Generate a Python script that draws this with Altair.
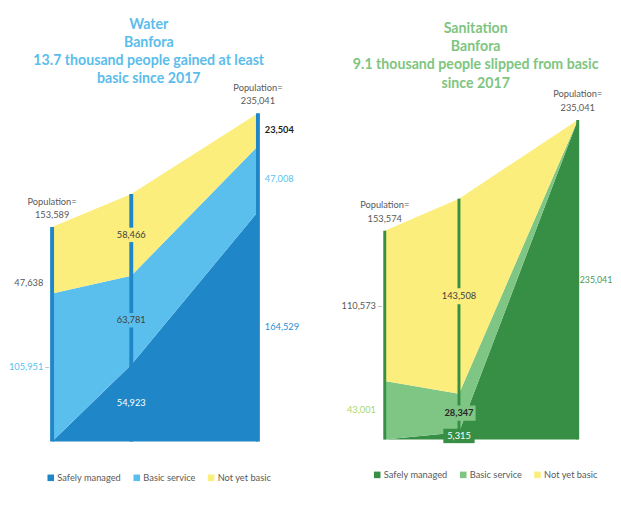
import altair as alt
import pandas as pd

# ---------------- data ----------------
years = [2017, 2022, 2030]
stage_names = [["Base", "2017"], ["Now", "2022"], ["Vision 2030"]]
categories = ["Safely managed", "Basic service", "Not yet basic"]

water_safely = [0, 54923, 164529]
water_basic = [105951, 63781, 47008]
water_not_basic = [47638, 58466, 23504]

san_safely = [0, 5315, 235041]
san_basic = [43001, 28347, 0]
san_not_basic = [110573, 143508, 0]

water_title = ["Water", "Banfora", "13.7 thousand people gained at least", "basic since 2017"]
san_title = ["Sanitation", "Banfora", "9.1 thousand people slipped from basic", "since 2017"]

# ---------------- styles ----------------
FONT = "Lato"
NUM = 9.5
GRAY = "#595959"
YELLOW = "#FBEE7C"
water_colors = ["#1F86C8", "#5BBFEE", YELLOW]
san_colors = ["#368F44", "#7FC685", YELLOW]
BOX = "M-1,-0.46H1V0.46H-1Z"


def build(series):
    rows = []
    lo = [0] * len(years)
    for cat, vals in zip(categories, series):
        for i, (yr, v) in enumerate(zip(years, vals)):
            rows.append(dict(year=yr, cat=cat, lo=lo[i], hi=lo[i] + v,
                             mid=lo[i] + v / 2, label=f"{v:,}", stage=i))
        lo = [a + b for a, b in zip(lo, vals)]
    totals = pd.DataFrame(dict(year=years, zero=[0] * len(years), total=lo,
                               pop=[f"Population=\n{t:,}" for t in lo]))
    return pd.DataFrame(rows), totals


label_expr = " : ".join(
    f"datum.value == {y} ? {n!r}" for y, n in zip(years, stage_names)
) + " : ''"


def panel(series, colors, title_lines, title_color, title_offset, title_dx,
          width, height, xdom, ydom, label_specs, rule_width, legend_xy):
    df, tot = build(series)
    xs = alt.Scale(domain=xdom, nice=False, zero=False)
    ys = alt.Scale(domain=ydom, nice=False)
    X = alt.X("year:Q", scale=xs,
              axis=alt.Axis(values=years, labelExpr=label_expr, title=None, grid=False,
                            domainColor="#D9D9D9", domainWidth=1.5, tickColor="#D9D9D9",
                            tickSize=3, labelColor=GRAY, labelFont=FONT, labelFontSize=10,
                            labelPadding=5, labelLineHeight=14, labelBaseline="top"))
    Xn = alt.X("year:Q", scale=xs, axis=None)
    Ym = alt.Y("mid:Q", scale=ys, axis=None)

    area = alt.Chart(df).mark_area(interpolate="linear", opacity=1).encode(
        x=X,
        y=alt.Y("lo:Q", scale=ys, axis=None),
        y2="hi:Q",
        color=alt.Color("cat:N", scale=alt.Scale(domain=categories, range=colors),
                        legend=alt.Legend(orient="none", legendX=legend_xy[0], legendY=legend_xy[1],
                                          direction="horizontal", symbolType="square", title=None,
                                          labelFont=FONT, labelFontSize=9.5, labelColor=GRAY,
                                          symbolSize=45, symbolStrokeWidth=0, columnPadding=11,
                                          labelOffset=2)),
        detail="cat:N",
    )
    layers = [area]
    layers.append(alt.Chart(tot).mark_rule(strokeWidth=rule_width, color=colors[0]).encode(
        x=Xn, y=alt.Y("zero:Q", scale=ys, axis=None), y2="total:Q"))

    for spec in label_specs:
        st, ci = spec["at"]
        row = df[(df["stage"] == st) & (df["cat"] == categories[ci])]
        if "box" in spec:
            layers.append(alt.Chart(row).mark_point(
                shape=BOX, size=spec["box"] ** 2, filled=True, opacity=1,
                color=spec["boxcolor"], strokeWidth=0).encode(x=Xn, y=Ym))
        side = spec["side"]
        align = {"left": "right", "center": "center", "right": "left"}[side]
        dx = {"left": -9, "center": 0, "right": 7}[side] + spec.get("dx", 0)
        layers.append(alt.Chart(row).mark_text(
            align=align, baseline="middle", dx=dx, dy=spec.get("dy", 0), font=FONT,
            fontSize=spec.get("size", NUM), color=spec["color"],
            fontWeight=spec.get("weight", "normal")).encode(
            x=Xn, y=Ym, text="label:N"))
        if spec.get("dash"):
            layers.append(alt.Chart(row).mark_text(
                align="center", baseline="middle", dx=-5, font=FONT, fontSize=10,
                color="#A6A6A6", text="–").encode(x=Xn, y=Ym))

    pdf = tot[tot["year"].isin([years[0], years[-1]])]
    layers.append(alt.Chart(pdf).mark_text(
        align="center", baseline="bottom", dy=-21, font=FONT, fontSize=NUM, color=GRAY,
        lineBreak="\n", lineHeight=14).encode(
        x=Xn, y=alt.Y("total:Q", scale=ys, axis=None), text="pop:N"))

    return alt.layer(*layers).properties(
        width=width, height=height,
        title=alt.TitleParams(text=title_lines, color=title_color, font=FONT, fontSize=14.5,
                              fontWeight="bold", anchor="middle", offset=title_offset,
                              dx=title_dx, lineHeight=18.7),
    )


water_labels = [
    dict(at=(0, 2), side="left", color=GRAY, dy=23),
    dict(at=(0, 1), side="left", color="#5BBFEE", dash=True),
    dict(at=(1, 2), side="center", color="#404040", box=32, boxcolor=YELLOW),
    dict(at=(1, 1), side="center", color="#404040", box=32, boxcolor="#5BBFEE"),
    dict(at=(1, 0), side="center", color="#FFFFFF"),
    dict(at=(2, 2), side="right", color="#1A1A1A", weight="bold"),
    dict(at=(2, 1), side="right", color="#5BBFEE"),
    dict(at=(2, 0), side="right", color="#2E8FD3"),
]
san_labels = [
    dict(at=(0, 2), side="left", color=GRAY, dash=True),
    dict(at=(0, 1), side="left", color="#A6D96A"),
    dict(at=(1, 2), side="center", color="#404040", box=36, boxcolor=YELLOW),
    dict(at=(1, 1), side="center", color="#262626", weight="bold", box=34, boxcolor="#7FC685"),
    dict(at=(1, 0), side="center", color="#FFFFFF", box=32, boxcolor="#368F44"),
    dict(at=(2, 0), side="right", color="#4A9A55", dx=-5, size=9),
]

water = panel([water_safely, water_basic, water_not_basic], water_colors, water_title,
              "#5BBDEB", -4, -6, 226, 343, [2016.5, 2030.45], [0, 240000], water_labels,
              4, (2, 375))
san = panel([san_safely, san_basic, san_not_basic], san_colors, san_title,
            "#7EC57F", -1.5, 0, 221, 341, [2015.85, 2030.4], [0, 245100], san_labels,
            3, (5, 372))

chart = alt.hconcat(water, san, spacing=105, bounds="flush").resolve_scale(
    color="independent", x="independent", y="independent"
).properties(padding={"left": 0, "top": 3, "right": 0, "bottom": 0}).configure_view(stroke=None)

chart.save("out.html", embed_options={"renderer": "svg", "actions": False})
